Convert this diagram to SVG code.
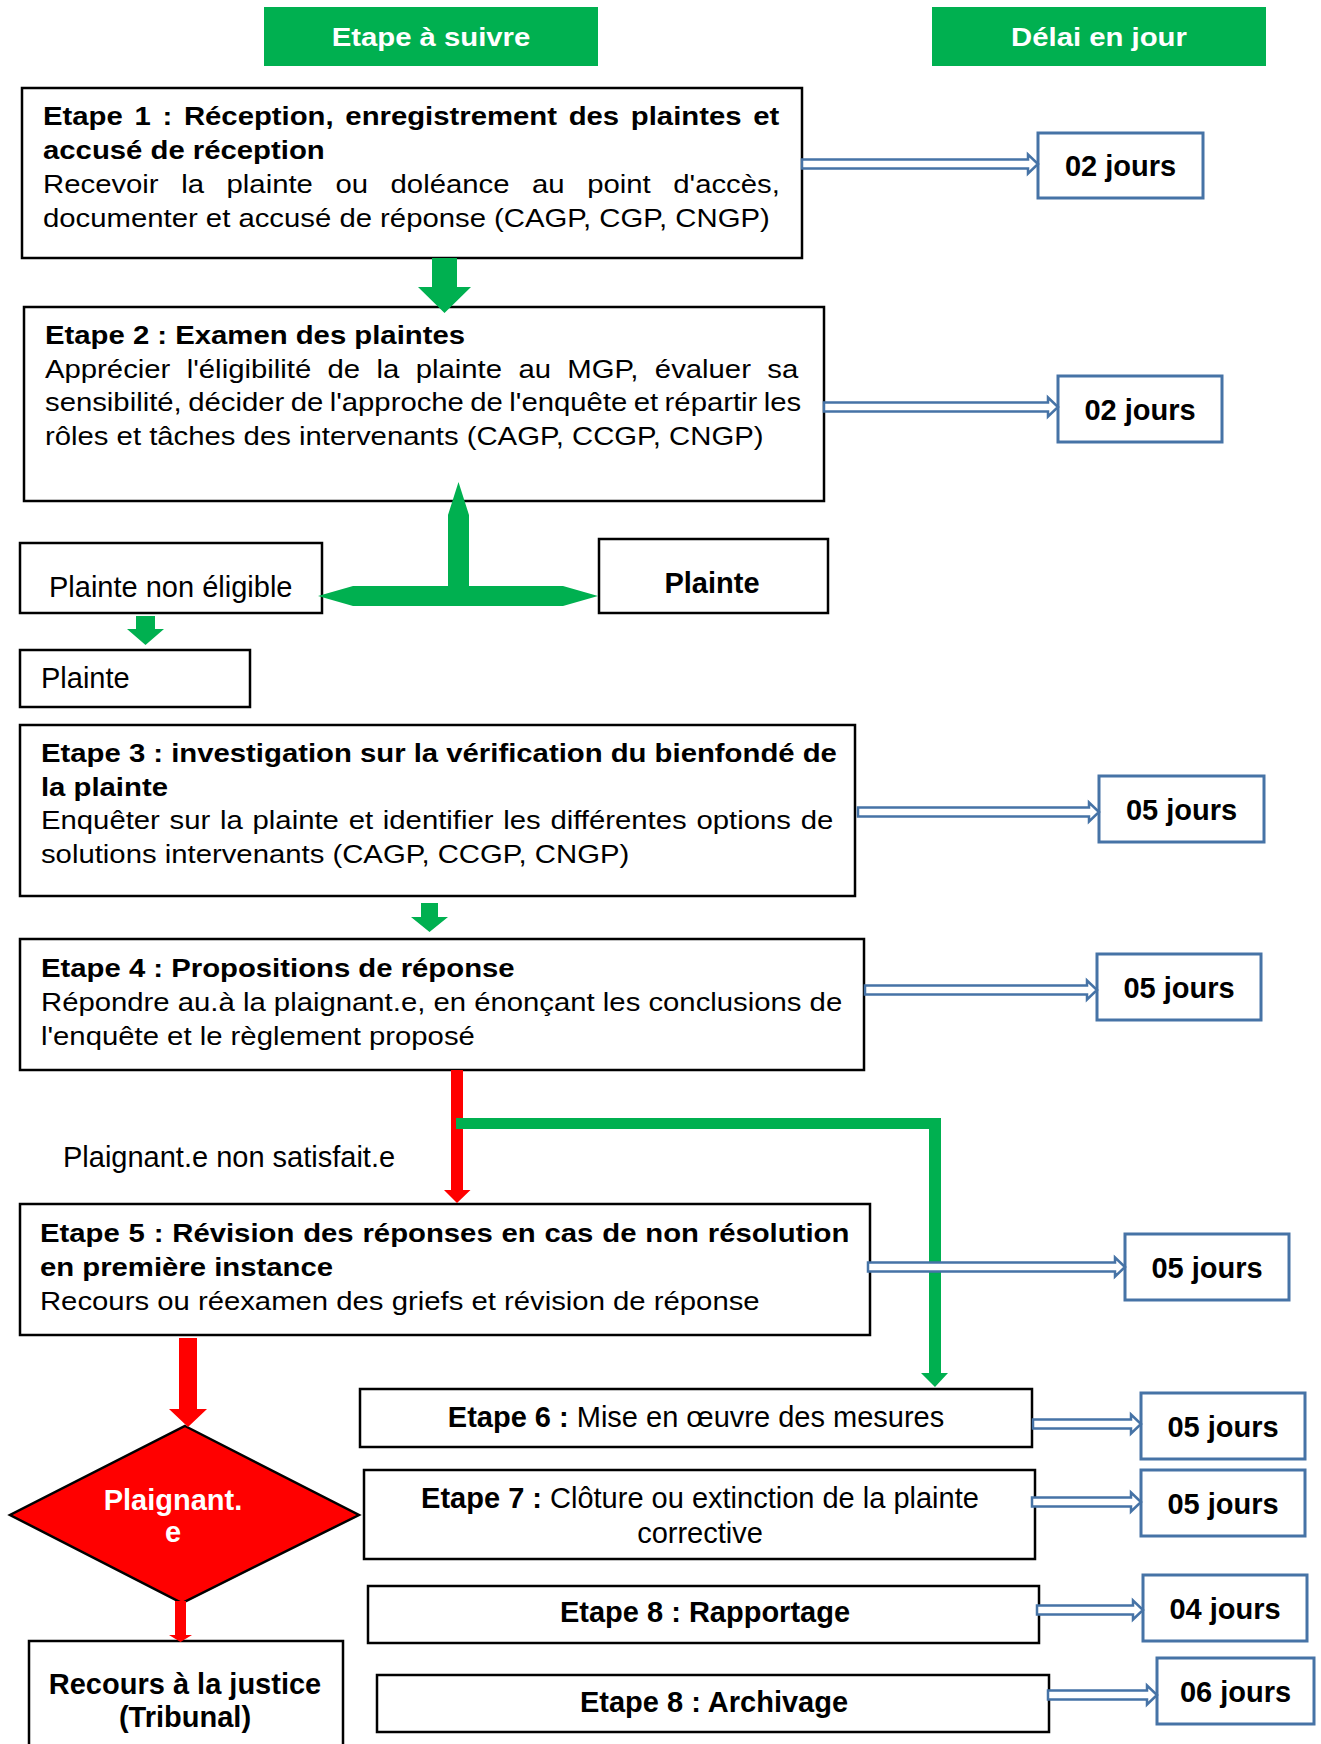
<svg xmlns="http://www.w3.org/2000/svg" width="1321" height="1744" viewBox="0 0 1321 1744">
<style>
text{font-family:"Liberation Sans",Arial,sans-serif;fill:#000}
.s{font-size:25.6px}
.m{font-size:29px}
.b{font-weight:bold}
.w{fill:#fff}
.c{text-anchor:middle}
.box{fill:#fff;stroke:#000;stroke-width:2.5}
.jbox{fill:#fff;stroke:#4673A6;stroke-width:3}
.hdr{fill:#00B050}
.g{fill:#00B050}
.r{fill:#FF0000}
.ba{fill:#fff;stroke:#4673A6;stroke-width:2.5;stroke-linejoin:miter}
</style>
<rect width="1321" height="1744" fill="#fff"/>

<g id="header-etape">
<rect class="hdr" x="264" y="7" width="334" height="59"/>
<text class="s b w c" transform="scale(1.145 1)" x="376.4" y="46">Etape à suivre</text>
</g>
<g id="header-delai">
<rect class="hdr" x="932" y="7" width="334" height="59"/>
<text class="s b w c" transform="scale(1.145 1)" x="959.8" y="46">Délai en jour</text>
</g>

<g id="etape1">
<rect class="box" x="22" y="88" width="780" height="170"/>
<text class="s b" transform="scale(1.145 1)" x="37.6" y="125" word-spacing="3.1">Etape 1 : Réception, enregistrement des plaintes et</text>
<text class="s b" transform="scale(1.145 1)" x="37.6" y="159">accusé de réception</text>
<text class="s" transform="scale(1.145 1)" x="37.6" y="193" word-spacing="12.6">Recevoir la plainte ou doléance au point d'accès,</text>
<text class="s" transform="scale(1.145 1)" x="37.6" y="227">documenter et accusé de réponse (CAGP, CGP, CNGP)</text>
</g>

<g id="etape2">
<rect class="box" x="24" y="307" width="800" height="194"/>
<text class="s b" transform="scale(1.145 1)" x="39.3" y="344">Etape 2 : Examen des plaintes</text>
<text class="s" transform="scale(1.145 1)" x="39.3" y="378" word-spacing="7.2">Apprécier l'éligibilité de la plainte au MGP, évaluer sa</text>
<text class="s" transform="scale(1.145 1)" x="39.3" y="411" word-spacing="-1.5">sensibilité, décider de l'approche de l'enquête et répartir les</text>
<text class="s" transform="scale(1.145 1)" x="39.3" y="445">rôles et tâches des intervenants (CAGP, CCGP, CNGP)</text>
</g>

<g id="plainte-non-eligible">
<rect class="box" x="20" y="543" width="302" height="70"/>
<text class="m" x="49" y="597">Plainte non éligible</text>
</g>
<g id="plainte-eligible">
<rect class="box" x="599" y="539" width="229" height="74"/>
<text class="m b c" x="712" y="593">Plainte</text>
</g>
<g id="plainte">
<rect class="box" x="20" y="650" width="230" height="57"/>
<text class="m" x="41" y="688">Plainte</text>
</g>

<g id="etape3">
<rect class="box" x="20" y="725" width="835" height="171"/>
<text class="s b" transform="scale(1.145 1)" x="35.8" y="762">Etape 3 : investigation sur la vérification du bienfondé de</text>
<text class="s b" transform="scale(1.145 1)" x="35.8" y="796">la plainte</text>
<text class="s" transform="scale(1.145 1)" x="35.8" y="829" word-spacing="1.4">Enquêter sur la plainte et identifier les différentes options de</text>
<text class="s" transform="scale(1.145 1)" x="35.8" y="863">solutions intervenants (CAGP, CCGP, CNGP)</text>
</g>

<g id="etape4">
<rect class="box" x="20" y="939" width="844" height="131"/>
<text class="s b" transform="scale(1.145 1)" x="35.8" y="977">Etape 4 : Propositions de réponse</text>
<text class="s" transform="scale(1.145 1)" x="35.8" y="1011">Répondre au.à la plaignant.e, en énonçant les conclusions de</text>
<text class="s" transform="scale(1.145 1)" x="35.8" y="1045">l'enquête et le règlement proposé</text>
</g>

<g id="label-non-satisfait">
<text class="m" x="63" y="1167">Plaignant.e non satisfait.e</text>
</g>

<g id="etape5">
<rect class="box" x="20" y="1204" width="850" height="131"/>
<text class="s b" transform="scale(1.145 1)" x="34.9" y="1242" word-spacing="0.6">Etape 5 : Révision des réponses en cas de non résolution</text>
<text class="s b" transform="scale(1.145 1)" x="34.9" y="1276">en première instance</text>
<text class="s" transform="scale(1.145 1)" x="34.9" y="1310">Recours ou réexamen des griefs et révision de réponse</text>
</g>

<g id="etape6">
<rect class="box" x="360" y="1389" width="672" height="58"/>
<text class="m c" x="696" y="1427"><tspan class="b">Etape 6 :</tspan> Mise en œuvre des mesures</text>
</g>
<g id="etape7">
<rect class="box" x="364" y="1470" width="671" height="89"/>
<text class="m c" x="700" y="1508"><tspan class="b">Etape 7 :</tspan> Clôture ou extinction de la plainte</text>
<text class="m c" x="700" y="1543">corrective</text>
</g>
<g id="etape8-rapportage">
<rect class="box" x="368" y="1586" width="671" height="57"/>
<text class="m b c" x="705" y="1622">Etape 8 : Rapportage</text>
</g>
<g id="etape8-archivage">
<rect class="box" x="377" y="1675" width="672" height="57"/>
<text class="m b c" x="714" y="1712">Etape 8 : Archivage</text>
</g>

<g id="decision">
<polygon points="185,1426 359,1515 182,1603 10,1515" fill="#FF0000" stroke="#000" stroke-width="2.5"/>
<text class="m b w c" x="173" y="1510">Plaignant.</text>
<text class="m b w c" x="173" y="1542">e</text>
</g>
<g id="recours">
<rect class="box" x="29" y="1641" width="314" height="120"/>
<text class="m b c" x="185" y="1694">Recours à la justice</text>
<text class="m b c" x="185" y="1727">(Tribunal)</text>
</g>

<g id="delai1"><rect class="jbox" x="1038" y="133" width="165" height="65"/><text class="m b c" x="1120.5" y="176">02 jours</text></g>
<g id="delai2"><rect class="jbox" x="1058" y="376" width="164" height="66"/><text class="m b c" x="1140" y="420">02 jours</text></g>
<g id="delai3"><rect class="jbox" x="1099" y="776" width="165" height="66"/><text class="m b c" x="1181.5" y="820">05 jours</text></g>
<g id="delai4"><rect class="jbox" x="1097" y="954" width="164" height="66"/><text class="m b c" x="1179" y="998">05 jours</text></g>
<g id="delai5"><rect class="jbox" x="1125" y="1234" width="164" height="66"/><text class="m b c" x="1207" y="1278">05 jours</text></g>
<g id="delai6"><rect class="jbox" x="1141" y="1393" width="164" height="66"/><text class="m b c" x="1223" y="1437">05 jours</text></g>
<g id="delai7"><rect class="jbox" x="1141" y="1470" width="164" height="66"/><text class="m b c" x="1223" y="1514">05 jours</text></g>
<g id="delai8"><rect class="jbox" x="1143" y="1575" width="164" height="66"/><text class="m b c" x="1225" y="1619">04 jours</text></g>
<g id="delai9"><rect class="jbox" x="1157" y="1658" width="157" height="66"/><text class="m b c" x="1235.5" y="1702">06 jours</text></g>

<g id="connectors">
<polygon class="g" points="432,258 457,258 457,287 471,287 444.5,313 418,287 432,287"/>
<path class="g" d="M458.5,482 L469,515 L469,586 L563,586 L598,596 L563,606 L353,606 L318,596 L353,586 L448,586 L448,515 Z"/>
<polygon class="g" points="136,616 155,616 155,629 164,629 145.5,645 127,629 136,629"/>
<polygon class="g" points="421,903 438,903 438,917 448,917 429.5,932 411,917 421,917"/>
<polygon class="r" points="451,1070 463,1070 463,1190 470.5,1190 457,1203 444,1190 451,1190"/>
<polygon class="g" points="456,1118 941,1118 941,1373 948,1373 935,1387 921,1373 929,1373 929,1129 456,1129"/>
<polygon class="r" points="179,1338 197,1338 197,1409 207,1409 188,1427 169,1409 179,1409"/>
<polygon class="r" points="175,1601 186,1601 186,1635 192,1635 180.5,1642 169,1635 175,1635"/>
<path class="ba" d="M802,159.5 H1028 V154.5 L1038,164 L1028,173.5 V168.5 H802 Z"/>
<path class="ba" d="M824,402.5 H1048 V397.5 L1058,407 L1048,416.5 V411.5 H824 Z"/>
<path class="ba" d="M858,807.5 H1089 V802.5 L1099,812 L1089,821.5 V816.5 H858 Z"/>
<path class="ba" d="M865,985.5 H1087 V980.5 L1097,990 L1087,999.5 V994.5 H865 Z"/>
<path class="ba" d="M868,1262.5 H1115 V1257.5 L1125,1267 L1115,1276.5 V1271.5 H868 Z"/>
<path class="ba" d="M1033,1419.5 H1131 V1414.5 L1141,1424 L1131,1433.5 V1428.5 H1033 Z"/>
<path class="ba" d="M1032,1497.5 H1131 V1492.5 L1141,1502 L1131,1511.5 V1506.5 H1032 Z"/>
<path class="ba" d="M1037,1605.5 H1133 V1600.5 L1143,1610 L1133,1619.5 V1614.5 H1037 Z"/>
<path class="ba" d="M1048,1690.5 H1147 V1685.5 L1157,1695 L1147,1704.5 V1699.5 H1048 Z"/>
</g>
</svg>
